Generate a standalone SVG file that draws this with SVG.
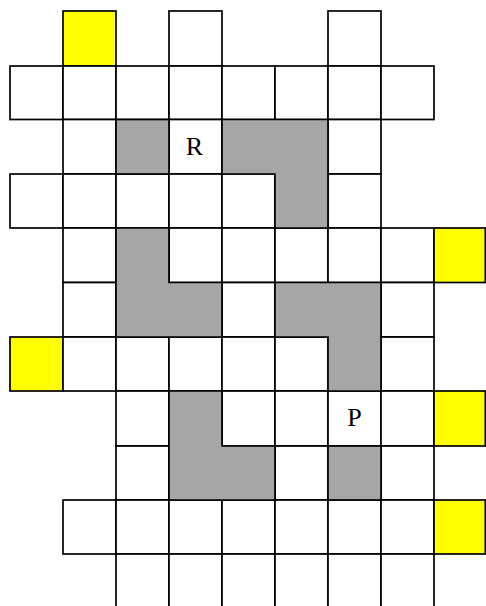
<svg xmlns="http://www.w3.org/2000/svg" width="486" height="606" viewBox="0 0 486 606">
<style>
.c{fill:#ffffff;stroke:#000;stroke-width:1.7}
.y{fill:#ffff00;stroke:#000;stroke-width:1.7}
.g{fill:#a6a6a6;stroke:#000;stroke-width:1.7;stroke-linejoin:miter}
.t{font-family:"Liberation Serif","Times New Roman",serif;font-size:26px;fill:#000;text-anchor:middle}
</style>
<rect width="486" height="606" fill="#ffffff"/>
<g id="row0">
<rect class="y" x="63" y="11" width="53" height="55"/>
<rect class="c" x="169" y="11" width="53" height="55"/>
<rect class="c" x="328" y="11" width="53" height="55"/>
</g>
<g id="row1">
<rect class="c" x="10" y="66" width="53" height="53.5"/>
<rect class="c" x="63" y="66" width="53" height="53.5"/>
<rect class="c" x="116" y="66" width="53" height="53.5"/>
<rect class="c" x="169" y="66" width="53" height="53.5"/>
<rect class="c" x="222" y="66" width="53" height="53.5"/>
<rect class="c" x="275" y="66" width="53" height="53.5"/>
<rect class="c" x="328" y="66" width="53" height="53.5"/>
<rect class="c" x="381" y="66" width="53" height="53.5"/>
</g>
<g id="row2">
<rect class="c" x="63" y="119.5" width="53" height="54.5"/>
<rect class="c" x="169" y="119.5" width="53" height="54.5"/>
<rect class="c" x="328" y="119.5" width="53" height="54.5"/>
</g>
<g id="row3">
<rect class="c" x="10" y="174" width="53" height="54"/>
<rect class="c" x="63" y="174" width="53" height="54"/>
<rect class="c" x="116" y="174" width="53" height="54"/>
<rect class="c" x="169" y="174" width="53" height="54"/>
<rect class="c" x="222" y="174" width="53" height="54"/>
<rect class="c" x="328" y="174" width="53" height="54"/>
</g>
<g id="row4">
<rect class="c" x="63" y="228" width="53" height="54.5"/>
<rect class="c" x="169" y="228" width="53" height="54.5"/>
<rect class="c" x="222" y="228" width="53" height="54.5"/>
<rect class="c" x="275" y="228" width="53" height="54.5"/>
<rect class="c" x="328" y="228" width="53" height="54.5"/>
<rect class="c" x="381" y="228" width="53" height="54.5"/>
<rect class="y" x="434" y="228" width="51.3" height="54.5"/>
</g>
<g id="row5">
<rect class="c" x="63" y="282.5" width="53" height="54.5"/>
<rect class="c" x="222" y="282.5" width="53" height="54.5"/>
<rect class="c" x="381" y="282.5" width="53" height="54.5"/>
</g>
<g id="row6">
<rect class="y" x="10" y="337" width="53" height="54"/>
<rect class="c" x="63" y="337" width="53" height="54"/>
<rect class="c" x="116" y="337" width="53" height="54"/>
<rect class="c" x="169" y="337" width="53" height="54"/>
<rect class="c" x="222" y="337" width="53" height="54"/>
<rect class="c" x="275" y="337" width="53" height="54"/>
<rect class="c" x="381" y="337" width="53" height="54"/>
</g>
<g id="row7">
<rect class="c" x="116" y="391" width="53" height="55"/>
<rect class="c" x="222" y="391" width="53" height="55"/>
<rect class="c" x="275" y="391" width="53" height="55"/>
<rect class="c" x="328" y="391" width="53" height="55"/>
<rect class="c" x="381" y="391" width="53" height="55"/>
<rect class="y" x="434" y="391" width="51.3" height="55"/>
</g>
<g id="row8">
<rect class="c" x="116" y="446" width="53" height="54"/>
<rect class="c" x="275" y="446" width="53" height="54"/>
<rect class="c" x="381" y="446" width="53" height="54"/>
</g>
<g id="row9">
<rect class="c" x="63" y="500" width="53" height="54"/>
<rect class="c" x="116" y="500" width="53" height="54"/>
<rect class="c" x="169" y="500" width="53" height="54"/>
<rect class="c" x="222" y="500" width="53" height="54"/>
<rect class="c" x="275" y="500" width="53" height="54"/>
<rect class="c" x="328" y="500" width="53" height="54"/>
<rect class="c" x="381" y="500" width="53" height="54"/>
<rect class="y" x="434" y="500" width="51.3" height="54"/>
</g>
<g id="row10">
<rect class="c" x="116" y="554" width="53" height="70"/>
<rect class="c" x="169" y="554" width="53" height="70"/>
<rect class="c" x="222" y="554" width="53" height="70"/>
<rect class="c" x="275" y="554" width="53" height="70"/>
<rect class="c" x="328" y="554" width="53" height="70"/>
<rect class="c" x="381" y="554" width="53" height="70"/>
</g>
<g id="walls">
<rect class="g" x="116" y="119.5" width="53" height="54.5"/>
<polygon class="g" points="222,119.5 328,119.5 328,228 275,228 275,174 222,174"/>
<polygon class="g" points="116,228 169,228 169,282.5 222,282.5 222,337 116,337"/>
<polygon class="g" points="275,282.5 381,282.5 381,391 328,391 328,337 275,337"/>
<polygon class="g" points="169,391 222,391 222,446 275,446 275,500 169,500"/>
<rect class="g" x="328" y="446" width="53" height="54"/>
</g>
<g id="labels">
<text class="t" x="194.5" y="155">R</text>
<text class="t" x="354.5" y="426">P</text>
</g>
</svg>
